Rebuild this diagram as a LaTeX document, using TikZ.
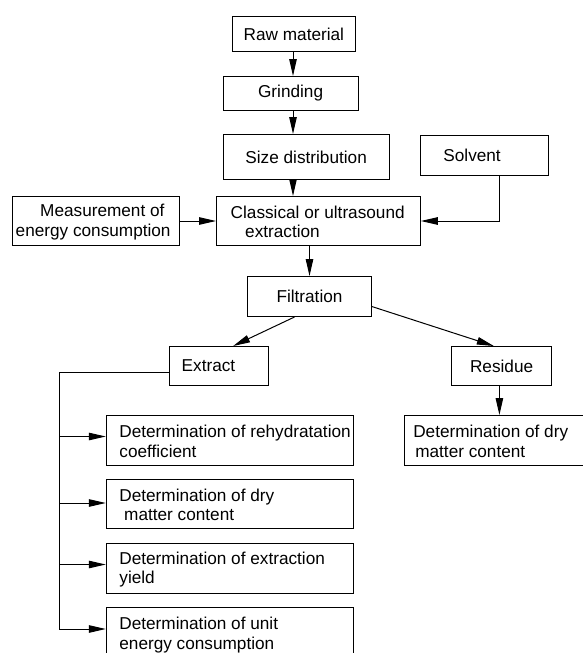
\documentclass[tikz,border=0pt]{standalone}
\usepackage{fontspec}
\setmainfont{Liberation Sans}
\usetikzlibrary{arrows.meta,calc}
\begin{document}
\begin{tikzpicture}[x=1pt,y=-1pt,
  box/.style={draw, line width=1pt, anchor=north west, inner sep=0pt,
    font=\fontsize{17.2}{19.5}\selectfont},
  txt/.style={font=\fontsize{17.2}{19.5}\selectfont, inner sep=0pt, align=left, anchor=west},
  arr/.style={line width=1pt, -{Triangle[length=17pt,width=7.5pt]}},
  ln/.style={line width=1pt}]
\useasboundingbox (0,0) rectangle (582,653);
% main column
\node[box, minimum width=123.6pt, minimum height=35pt] (raw) at (231.6,16) {Raw material};
\node[box, minimum width=134.8pt, minimum height=34pt] (grind) at (222.7,76) {Grinding};
\node[box, minimum width=165.9pt, minimum height=45pt] (size) at (222.7,134) {Size distribution};
\node[box, minimum width=128.1pt, minimum height=40pt] (solv) at (419.8,135) {};
\node[txt] (solvt) at ([xshift=23.4pt]solv.west) {Solvent};
\node[box, minimum width=203.8pt, minimum height=49pt] (cls) at (216,196) {};
\node[txt] (clst) at ([xshift=14.5pt,yshift=-1pt]cls.west) {Classical or ultrasound\\\hspace{14.5pt}extraction};
\node[box, minimum width=167.1pt, minimum height=49pt] (meas) at (12.2,196) {};
\node[txt] (meast) at ([xshift=3.3pt,yshift=-1pt]meas.west) {\hspace{24.5pt}Measurement of\\energy consumption};
\node[box, minimum width=123.6pt, minimum height=40pt] (filt) at (247.2,276) {Filtration};
\node[box, minimum width=99.1pt, minimum height=39pt] (ext) at (169.3,346) {};
\node[txt] (extt) at ([xshift=12.2pt]ext.west) {Extract};
\node[box, minimum width=100.2pt, minimum height=39pt] (res) at (451,346) {Residue};
\node[box, minimum width=182pt, minimum height=50pt] (rdet) at (404.2,415) {};
\node[txt] (rdett) at ([xshift=8.9pt,yshift=-1pt]rdet.west) {Determination of dry\\\hspace{2pt}matter content};
% determination boxes
\node[box, minimum width=247.2pt, minimum height=50pt] (d1) at (105.8,415) {};
\node[txt] (d1t) at ([xshift=13.4pt,yshift=-1pt]d1.west) {Determination of rehydratation\\coefficient};
\node[box, minimum width=247.2pt, minimum height=49pt] (d2) at (105.8,479) {};
\node[txt] (d2t) at ([xshift=13.4pt,yshift=-1pt]d2.west) {Determination of dry\\\hspace{4.8pt}matter content};
\node[box, minimum width=247.2pt, minimum height=50pt] (d3) at (105.8,543) {};
\node[txt] (d3t) at ([xshift=13.4pt,yshift=-1pt]d3.west) {Determination of extraction\\yield};
\node[box, minimum width=247.2pt, minimum height=53pt] (d4) at (105.8,607) {};
\node[txt] (d4t) at ([xshift=13.4pt,yshift=-1pt]d4.west) {Determination of unit\\energy consumption};
% connectors
\coordinate (sp) at (293,0);
\draw[arr] (sp |- raw.south) -- (sp |- grind.north);
\draw[arr] (sp |- grind.south) -- (sp |- size.north);
\draw[arr] (sp |- size.south) -- (sp |- cls.north);
\draw[arr] (meas.east) -- (cls.west);
\draw[arr] ([xshift=15pt]solv.south) |- (cls.east);
\draw[arr] (filt.north |- cls.south) -- (filt.north);
\draw[arr] ([xshift=-15pt]filt.south) -- ([xshift=13.8pt]ext.north);
\draw[arr] ([yshift=-10pt]filt.east) -- ([xshift=-7.8pt]res.north);
\draw[arr] ([xshift=-2.2pt]res.south) -- ([xshift=-2.2pt]res.south |- rdet.north);
\coordinate (bus) at (59,372);
\draw[ln] (ext.west |- bus) -- (bus) -- ([yshift=5pt]bus |- d4.west);
\draw[arr] ([yshift=4pt]bus |- d1.west) -- ([yshift=4pt]d1.west);
\draw[arr] ([yshift=1pt]bus |- d2.west) -- ([yshift=1pt]d2.west);
\draw[arr] ([yshift=4pt]bus |- d3.west) -- ([yshift=4pt]d3.west);
\draw[arr] ([yshift=5pt]bus |- d4.west) -- ([yshift=5pt]d4.west);
\end{tikzpicture}
\end{document}
